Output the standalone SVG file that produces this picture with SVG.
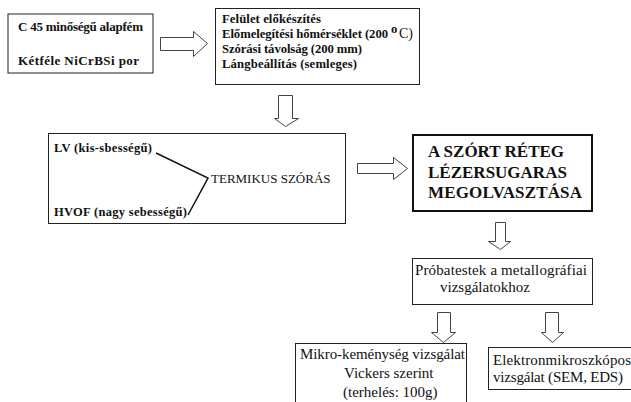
<svg xmlns="http://www.w3.org/2000/svg" width="631" height="402" viewBox="0 0 631 402">
<style>
.box{fill:#fff;stroke:#222;stroke-width:1}
.thick{fill:#fff;stroke:#111;stroke-width:2}
.arr{fill:#fff;stroke:#444;stroke-width:1}
text{font-family:'Liberation Serif','Times New Roman','DejaVu Serif',serif;fill:#111}
.b{font-weight:bold;font-size:12.7px}
.b1{font-weight:bold;font-size:13px}
.b3{font-weight:bold;font-size:12.5px}
.r{font-weight:normal;font-size:15px}
.big{font-weight:bold;font-size:17px}
.ln{stroke:#111;stroke-width:1.5;fill:none}
</style>
<rect width="631" height="402" fill="#fff"/>
<g id="n1">
<rect class="box" x="8" y="14" width="145" height="59"/>
<text class="b1" x="18" y="31" textLength="125">C 45 minőségű alapfém</text>
<text class="b1" x="18" y="65" textLength="121">Kétféle NiCrBSi por</text>
</g>
<g id="n2">
<rect class="box" x="215.5" y="8.5" width="204" height="76"/>
<text class="b" x="222" y="23" textLength="99">Felület előkészítés</text>
<text class="b" x="222" y="38" textLength="166">Előmelegítési hőmérséklet (200</text>
<text class="b" x="391" y="33" font-size="11">o</text>
<text x="399" y="38" font-size="14">C)</text>
<text class="b" x="222" y="53" textLength="140">Szórási távolság (200 mm)</text>
<text class="b" x="222" y="68" textLength="135">Lángbeállítás (semleges)</text>
</g>
<g id="n3">
<rect class="box" x="48.5" y="133.5" width="297" height="90"/>
<text class="b3" x="54" y="152" textLength="98">LV (kis-sbességű)</text>
<text class="b3" x="54" y="216" textLength="133">HVOF (nagy sebességű)</text>
<text x="211" y="183" font-size="13">TERMIKUS SZÓRÁS</text>
</g>
<g id="n4">
<rect class="thick" x="413" y="135" width="179" height="76"/>
<text class="big" x="428" y="157">A SZÓRT RÉTEG</text>
<text class="big" x="428" y="178">LÉZERSUGARAS</text>
<text class="big" x="428" y="198" textLength="154">MEGOLVASZTÁSA</text>
</g>
<g id="n5">
<rect class="box" x="412.5" y="258.5" width="180" height="46"/>
<text class="r" x="415" y="275" textLength="172">Próbatestek a metallográfiai</text>
<text class="r" x="440" y="292">vizsgálatokhoz</text>
</g>
<g id="n6">
<rect class="box" x="295.5" y="343.5" width="171" height="62"/>
<text class="r" x="300" y="359" textLength="165">Mikro-keménység vizsgálat</text>
<text class="r" x="344" y="378">Vickers szerint</text>
<text class="r" x="343" y="397">(terhelés: 100g)</text>
</g>
<g id="n7">
<rect class="box" x="488.5" y="347.5" width="146" height="42"/>
<text class="r" x="493" y="365" textLength="138">Elektronmikroszkópos</text>
<text class="r" x="493" y="382" textLength="130">vizsgálat (SEM, EDS)</text>
</g>
<g id="connectors">
<polyline class="ln" points="156,153 208,178 188,215"/>
<polygon class="arr" points="160.5,37.5 193.5,37.5 193.5,31.5 207.5,43.5 193.5,56.5 193.5,50.5 160.5,50.5"/>
<polygon class="arr" points="278.5,95.5 292.5,95.5 292.5,118.5 298.5,118.5 285.5,126.5 274.5,118.5 278.5,118.5"/>
<polygon class="arr" points="357.5,163.5 393.5,163.5 393.5,157.5 407.5,168.5 393.5,179.5 393.5,173.5 357.5,173.5"/>
<polygon class="arr" points="495.5,222.5 505.5,222.5 505.5,241.5 510.5,241.5 500.5,249.5 488.5,241.5 495.5,241.5"/>
<polygon class="arr" points="437.5,312.5 450.5,312.5 450.5,332.5 455.5,332.5 443.5,342.5 431.5,332.5 437.5,332.5"/>
<polygon class="arr" points="545.5,312.5 558.5,312.5 558.5,332.5 563.5,332.5 552.5,342.5 541.5,332.5 545.5,332.5"/>
</g>
</svg>
